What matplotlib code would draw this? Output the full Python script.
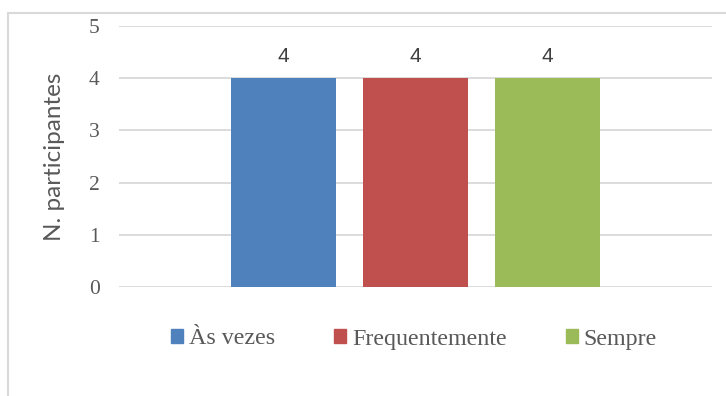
import matplotlib.pyplot as plt
from matplotlib.patches import Rectangle, Patch

categories = ["Às vezes", "Frequentemente", "Sempre"]
values = [4, 4, 4]
colors = ["#4F81BD", "#C0504D", "#9BBB59"]
yticks = [0, 1, 2, 3, 4, 5]

text_color = "#595959"
grid_color = "#D9D9D9"

fig = plt.figure(figsize=(7.26, 3.96), dpi=100)
ax = fig.add_axes([119 / 726, 109 / 396, 593 / 726, 261 / 396])

xs = list(range(len(categories)))
bars = ax.bar(xs, values, width=0.788, color=colors, zorder=3)
ax.bar_label(bars, labels=[str(v) for v in values], padding=9,
             fontsize=15, family="Liberation Sans", color="#404040")

ax.set_xlim(-1.246, 3.246)
ax.set_ylim(0, 5)
ax.set_yticks(yticks)
ax.set_xticks([])
ax.yaxis.grid(True, color=grid_color, linewidth=1.3, zorder=0)
for s in ax.spines.values():
    s.set_visible(False)
ax.tick_params(axis="y", length=0, pad=14, labelcolor=text_color, labelsize=15.5)
for lbl in ax.get_yticklabels():
    lbl.set_family("Liberation Serif")

ax.set_ylabel("N. participantes", family="Lato", fontsize=17.5, color=text_color)
ax.yaxis.set_label_coords(-0.091, 0.5)

handles = [Patch(color=c) for c in colors]
fig.legend(handles, categories, loc="center", bbox_to_anchor=(414 / 726, 1 - 339 / 396),
           ncol=3, frameon=False, handlelength=0.5, handleheight=0.5, handletextpad=0.25,
           columnspacing=2.45, prop={"family": "Liberation Serif", "size": 17.3},
           labelcolor=text_color)

fig.patches.append(Rectangle((8 / 726, -0.1), 1.1, 1.1 - 13 / 396, transform=fig.transFigure,
                             fill=False, edgecolor=grid_color, linewidth=1.5))

fig.savefig("out.png", dpi=100)
